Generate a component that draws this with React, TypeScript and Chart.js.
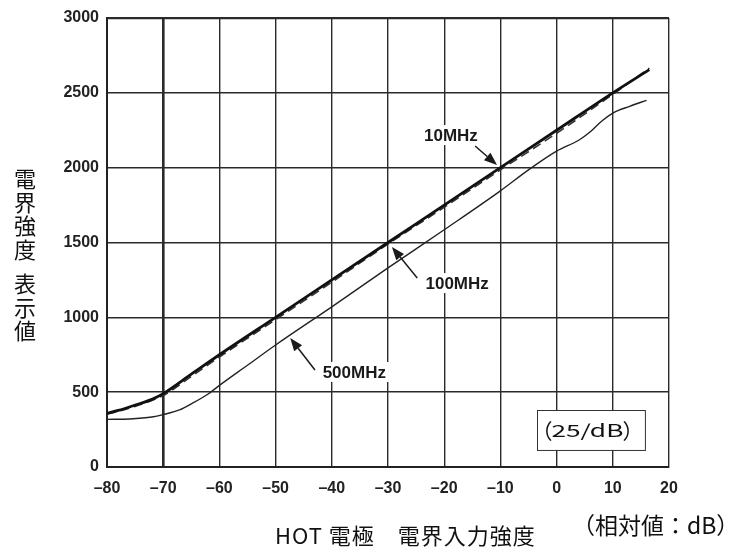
import React, { useEffect, useRef } from "react";
import { Chart, registerables } from "chart.js";

Chart.register(...registerables);

// ---- data ----
const xTickValues = [-80, -70, -60, -50, -40, -30, -20, -10, 0, 10, 20];
const yTickValues = [0, 500, 1000, 1500, 2000, 2500, 3000];

const x10MHz = [-80, -78, -75, -72, -70, -65, -60, -50, -40, -30, -20, -10, 0, 10, 16.5];
const y10MHz = [358, 378, 414, 452, 490, 620, 750, 1000, 1250, 1500, 1750, 2000, 2250, 2500, 2655];

const x100MHz = [-80, -75, -70, -65, -60, -50, -40, -30, -20, -10, 0, 10, 16.5];
const y100MHz = [352, 405, 478, 605, 735, 985, 1235, 1490, 1735, 1985, 2230, 2490, 2665];

const x500MHz = [-80, -76, -72, -70, -67, -65, -62, -60, -55, -50, -40, -30, -20, -10, -5, 0, 4, 6, 8, 10, 13, 16];
const y500MHz = [318, 321, 334, 350, 383, 422, 488, 545, 680, 815, 1070, 1330, 1585, 1845, 1985, 2110, 2185, 2240, 2310, 2365, 2410, 2450];

const annotLabels = ["10MHz", "100MHz", "500MHz"];
const annotTextX = [-18.8, -17.7, -36.0];
const annotTextY = [2218, 1229, 635];
const arrowFromX = [-14.5, -24.8, -43.0];
const arrowFromY = [2145, 1263, 648];
const arrowToX = [-10.6, -29.3, -47.4];
const arrowToY = [2018, 1470, 862];

const yTitle = "電界強度 表示値";
const xTitle = "HOT 電極　電界入力強度";
const xUnit = "（相対値：dB）";
const boxLabel = "25/dB";
const boxX = [-3.5, 15.7];
const boxY = [381, 114];

const toPts = (xs: number[], ys: number[]) => xs.map((x, i) => ({ x, y: ys[i] }));

const decorPlugin = {
  id: "decor",
  afterDraw(chart: any) {
    const ctx: any = chart.ctx;
    const xs = chart.scales.x;
    const ys = chart.scales.y;
    ctx.save();
    ctx.fillStyle = "#111";
    // y title (vertical characters)
    ctx.font = '22px "Noto Sans CJK JP"';
    ctx.textAlign = "center";
    ctx.textBaseline = "middle";
    let cy = 179;
    for (const ch of yTitle) {
      if (ch === " ") { cy += 11; continue; }
      ctx.fillText(ch, 25, cy);
      cy += 23.5;
    }
    // x title
    ctx.textAlign = "left";
    ctx.font = '22px "Noto Sans CJK JP"';
    ctx.letterSpacing = "1px";
    ctx.fillText(xTitle, 275, 536);
    ctx.letterSpacing = "0px";
    ctx.font = '23px "Noto Sans CJK JP"';
    ctx.fillText(xUnit, 572, 525);

    // box label
    const bx0 = xs.getPixelForValue(boxX[0]);
    const bx1 = xs.getPixelForValue(boxX[1]);
    const by0 = ys.getPixelForValue(boxY[0]);
    const by1 = ys.getPixelForValue(boxY[1]);
    ctx.fillStyle = "#fff";
    ctx.fillRect(bx0, by0, bx1 - bx0, by1 - by0);
    ctx.strokeStyle = "#333";
    ctx.lineWidth = 1;
    ctx.strokeRect(Math.round(bx0) + 0.5, Math.round(by0) + 0.5, bx1 - bx0, by1 - by0);
    ctx.fillStyle = "#111";
    const cx = (bx0 + bx1) / 2 - 3.5;
    const cyb = (by0 + by1) / 2 + 1;
    ctx.font = '17px "Noto Sans CJK JP"';
    ctx.textAlign = "center";
    const w = ctx.measureText(boxLabel).width;
    const target = 72;
    ctx.save();
    ctx.translate(cx, cyb);
    ctx.scale(target / w, 1);
    ctx.fillText(boxLabel, 0, 0);
    ctx.restore();
    ctx.font = '21px "Noto Sans CJK JP"';
    ctx.textAlign = "right";
    ctx.fillText("（", cx - target / 2 + 1, cyb);
    ctx.textAlign = "left";
    ctx.fillText("）", cx + target / 2 - 1, cyb);

    // annotations
    ctx.font = 'bold 17px "Liberation Sans", Arial, sans-serif';
    ctx.textAlign = "center";
    annotLabels.forEach((lab, i) => {
      const tx = xs.getPixelForValue(annotTextX[i]);
      const ty = ys.getPixelForValue(annotTextY[i]);
      const tw = ctx.measureText(lab).width;
      ctx.fillStyle = "#fff";
      ctx.fillRect(tx - tw / 2 - 3, ty - 10, tw + 6, 20);
      ctx.fillStyle = "#1a1a1a";
      ctx.fillText(lab, tx, ty + 1);
      const fx = xs.getPixelForValue(arrowFromX[i]);
      const fy = ys.getPixelForValue(arrowFromY[i]);
      const px = xs.getPixelForValue(arrowToX[i]);
      const py = ys.getPixelForValue(arrowToY[i]);
      const ang = Math.atan2(py - fy, px - fx);
      const hl = 13, hw = 5;
      const bxp = px - hl * Math.cos(ang);
      const byp = py - hl * Math.sin(ang);
      ctx.strokeStyle = "#1a1a1a";
      ctx.lineWidth = 1.5;
      ctx.beginPath();
      ctx.moveTo(fx, fy);
      ctx.lineTo(bxp, byp);
      ctx.stroke();
      ctx.fillStyle = "#1a1a1a";
      ctx.beginPath();
      ctx.moveTo(px, py);
      ctx.lineTo(bxp + hw * Math.sin(ang), byp - hw * Math.cos(ang));
      ctx.lineTo(bxp - hw * Math.sin(ang), byp + hw * Math.cos(ang));
      ctx.closePath();
      ctx.fill();
    });
    ctx.restore();
  },
};

export default function App() {
  const ref = useRef<HTMLCanvasElement | null>(null);
  useEffect(() => {
    if (!ref.current) return;
    const tickFont = { family: '"Liberation Sans", Arial, sans-serif', size: 16, weight: "bold" as const };
    const chart = new Chart(ref.current, {
      type: "scatter",
      data: {
        datasets: [
          {
            label: "10MHz",
            data: toPts(x10MHz, y10MHz),
            showLine: true,
            borderColor: "#111",
            borderWidth: 2.8,
            pointRadius: 0,
            cubicInterpolationMode: "monotone",
          },
          {
            label: "100MHz",
            data: toPts(x100MHz, y100MHz),
            showLine: true,
            borderColor: "#333",
            borderWidth: 1.6,
            borderDash: [9, 5],
            pointRadius: 0,
            cubicInterpolationMode: "monotone",
          },
          {
            label: "500MHz",
            data: toPts(x500MHz, y500MHz),
            showLine: true,
            borderColor: "#222",
            borderWidth: 1.4,
            pointRadius: 0,
            cubicInterpolationMode: "monotone",
          },
        ],
      },
      options: {
        animation: false,
        responsive: false,
        devicePixelRatio: 1,
        layout: { padding: { top: 18, right: 68, left: 0, bottom: 0 } },
        plugins: { legend: { display: false }, tooltip: { enabled: false } },
        scales: {
          x: {
            type: "linear",
            min: -80,
            max: 20,
            afterBuildTicks: (s: any) => { s.ticks = xTickValues.map((v) => ({ value: v })); },
            afterFit: (s: any) => { s.height = 81; },
            ticks: {
              color: "#222",
              font: tickFont,
              padding: 12,
              maxRotation: 0,
              callback: (v: any) => (v < 0 ? "\u2013" + Math.abs(v) : String(v)),
            },
            grid: {
              color: "#2a2a2a",
              drawTicks: false,
              lineWidth: (c: any) => (c.tick && c.tick.value === -70 ? 2.6 : 1.4),
            },
            border: { color: "#222", width: 2 },
          },
          y: {
            type: "linear",
            min: 0,
            max: 3000,
            afterBuildTicks: (s: any) => { s.ticks = yTickValues.map((v) => ({ value: v })); },
            afterFit: (s: any) => { s.width = 107; },
            ticks: { color: "#222", font: tickFont, padding: 8, callback: (v: any) => String(v) },
            grid: {
              color: "#2a2a2a",
              drawTicks: false,
              lineWidth: (c: any) => (c.tick && c.tick.value === 3000 ? 2.2 : 1.4),
            },
            border: { color: "#222", width: 2 },
          },
        },
      },
      plugins: [decorPlugin],
    });
    return () => chart.destroy();
  }, []);
  return (
    <div style={{ position: "fixed", left: 0, top: 0, width: 737, height: 548, background: "#fff" }}>
      <canvas ref={ref} width={737} height={548} style={{ width: 737, height: 548, display: "block" }} />
    </div>
  );
}
